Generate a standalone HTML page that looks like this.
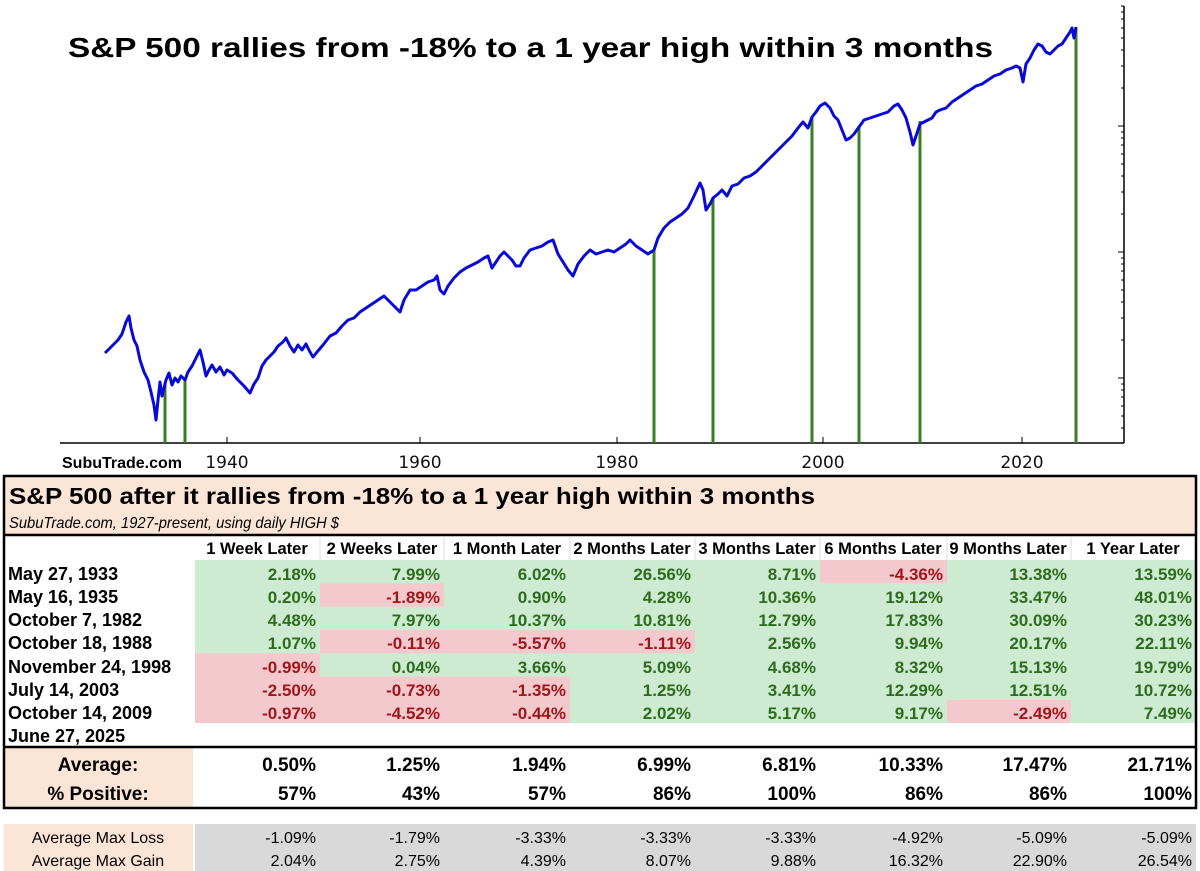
<!DOCTYPE html>
<html><head><meta charset="utf-8"><style>html,body{margin:0;padding:0;background:#fff}svg{display:block}</style></head>
<body>
<svg width="1200" height="871" viewBox="0 0 1200 871" xmlns="http://www.w3.org/2000/svg" font-family="Liberation Sans, Arial, sans-serif">
<rect width="1200" height="871" fill="#fff"/>
<line x1="60" y1="443" x2="1124" y2="443" stroke="#000" stroke-width="1.5"/>
<line x1="1124" y1="6" x2="1124" y2="443" stroke="#000" stroke-width="1.5"/>
<g stroke="#000" stroke-width="1">
<line x1="1118" y1="126" x2="1124" y2="126"/><line x1="1118" y1="252" x2="1124" y2="252"/><line x1="1118" y1="378" x2="1124" y2="378"/>
<line x1="1121" y1="88" x2="1124" y2="88"/><line x1="1121" y1="66" x2="1124" y2="66"/><line x1="1121" y1="50" x2="1124" y2="50"/><line x1="1121" y1="38" x2="1124" y2="38"/><line x1="1121" y1="28" x2="1124" y2="28"/><line x1="1121" y1="19" x2="1124" y2="19"/><line x1="1121" y1="12" x2="1124" y2="12"/><line x1="1121" y1="6" x2="1124" y2="6"/>
<line x1="1121" y1="214" x2="1124" y2="214"/><line x1="1121" y1="192" x2="1124" y2="192"/><line x1="1121" y1="176" x2="1124" y2="176"/><line x1="1121" y1="164" x2="1124" y2="164"/><line x1="1121" y1="154" x2="1124" y2="154"/><line x1="1121" y1="145" x2="1124" y2="145"/><line x1="1121" y1="138" x2="1124" y2="138"/><line x1="1121" y1="132" x2="1124" y2="132"/>
<line x1="1121" y1="340" x2="1124" y2="340"/><line x1="1121" y1="318" x2="1124" y2="318"/><line x1="1121" y1="302" x2="1124" y2="302"/><line x1="1121" y1="290" x2="1124" y2="290"/><line x1="1121" y1="280" x2="1124" y2="280"/><line x1="1121" y1="271" x2="1124" y2="271"/><line x1="1121" y1="264" x2="1124" y2="264"/><line x1="1121" y1="258" x2="1124" y2="258"/>
<line x1="1121" y1="428" x2="1124" y2="428"/><line x1="1121" y1="416" x2="1124" y2="416"/><line x1="1121" y1="406" x2="1124" y2="406"/><line x1="1121" y1="397" x2="1124" y2="397"/><line x1="1121" y1="390" x2="1124" y2="390"/><line x1="1121" y1="384" x2="1124" y2="384"/>
<line x1="227" y1="437" x2="227" y2="443"/><line x1="420" y1="437" x2="420" y2="443"/><line x1="617" y1="437" x2="617" y2="443"/><line x1="823" y1="437" x2="823" y2="443"/><line x1="1022" y1="437" x2="1022" y2="443"/>
</g>
<g font-family="DejaVu Sans, sans-serif" font-size="17" text-anchor="middle" fill="#111">
<text x="227" y="468">1940</text><text x="420" y="468">1960</text><text x="617" y="468">1980</text><text x="823" y="468">2000</text><text x="1022" y="468">2020</text>
</g>
<text x="62" y="468" font-size="16" font-weight="bold">SubuTrade.com</text>
<g stroke="#3a7d22" stroke-width="3">
<line x1="165" y1="383" x2="165" y2="443"/><line x1="185" y1="380" x2="185" y2="443"/>
<line x1="654" y1="250" x2="654" y2="443"/><line x1="713" y1="198" x2="713" y2="443"/>
<line x1="812" y1="117" x2="812" y2="443"/><line x1="859" y1="127" x2="859" y2="443"/>
<line x1="920" y1="121" x2="920" y2="443"/><line x1="1076" y1="27" x2="1076" y2="443"/>
</g>
<polyline fill="none" stroke="#0a0ad8" stroke-width="3" stroke-linejoin="round" points="
105,353 110,348 114,344 118,340 122,334 126,322 129,316 131,328 134,340 137,346 140,360 144,372 148,380 151,392 154,405 156,420 158,400 160,382 162,396 164,388 166,380 169,373 172,385 175,378 178,382 181,376 185,380 188,372 192,366 196,358 200,350 203,362 206,376 209,370 212,365 216,372 220,367 224,375 227,370 232,373 238,380 244,386 250,393 254,384 258,378 262,366 266,360 270,356 274,352 278,346 283,342 286,338 290,346 294,352 298,345 302,350 306,344 310,352 313,357 317,352 323,345 330,336 336,333 342,326 348,320 354,318 360,312 366,308 372,304 378,300 384,296 390,302 396,308 400,312 404,300 410,290 416,290 422,286 428,282 434,280 437,276 440,290 444,294 448,286 454,278 460,272 466,268 472,265 478,262 484,258 488,256 492,268 496,262 500,256 504,252 508,256 512,260 516,266 520,266 524,258 530,250 536,248 542,246 548,242 553,240 558,254 563,262 568,270 573,276 578,264 584,256 590,250 596,254 602,252 608,250 614,252 620,248 626,244 630,240 636,246 642,250 648,254 654,250 658,238 664,228 670,222 676,218 682,214 688,208 694,196 700,183 703,190 706,210 710,204 713,198 718,194 722,190 727,196 732,186 738,184 744,178 750,176 756,172 762,166 768,160 774,154 780,148 786,142 792,136 798,128 803,122 808,128 812,117 816,112 820,106 825,103 830,108 834,116 838,120 842,130 846,140 850,138 854,134 859,127 864,120 870,118 876,116 882,114 888,112 894,106 898,104 902,110 906,118 910,132 913,145 916,136 920,124 924,122 928,120 932,118 936,112 940,110 946,108 952,102 958,98 964,94 970,90 976,86 982,84 988,80 994,76 1000,74 1006,70 1012,68 1016,66 1020,68 1023,82 1026,64 1030,58 1034,50 1038,44 1042,46 1046,52 1050,54 1054,50 1058,46 1062,44 1066,38 1070,32 1072,28 1074,38 1076,27"/>
<text x="68" y="57" font-size="28" font-weight="bold" textLength="925" lengthAdjust="spacingAndGlyphs">S&amp;P 500 rallies from -18% to a 1 year high within 3 months</text>

<rect x="4" y="476" width="1192" height="59" fill="#fbe5d6"/>
<rect x="4" y="747" width="189" height="61" fill="#fbe5d6"/>
<rect x="4" y="824" width="189" height="47" fill="#fbe5d6"/>
<rect x="195" y="824" width="1001" height="47" fill="#d9d9d9"/>
<text x="9" y="504" font-size="23" font-weight="bold" textLength="806" lengthAdjust="spacingAndGlyphs">S&amp;P 500 after it rallies from -18% to a 1 year high within 3 months</text>
<text x="9" y="528" font-size="16" font-style="italic" textLength="330" lengthAdjust="spacingAndGlyphs">SubuTrade.com, 1927-present, using daily HIGH $</text>
<g fill="#cdebd0">
<rect x="195" y="560" width="876" height="163"/><rect x="1071" y="560" width="125" height="163"/>
</g>
<g fill="#f4c9cd">
<rect x="820" y="560" width="127" height="23.3"/>
<rect x="320" y="583.3" width="124" height="23.3"/>
<rect x="320" y="630" width="375" height="23.3"/>
<rect x="195" y="653.3" width="125" height="69.7"/>
<rect x="320" y="676.6" width="250" height="46.4"/>
<rect x="947" y="700" width="124" height="23"/>
</g>
<rect x="4" y="476" width="1192" height="332" fill="none" stroke="#000" stroke-width="2.5"/>
<line x1="4" y1="535" x2="1196" y2="535" stroke="#000" stroke-width="2.5"/>
<line x1="4" y1="747" x2="1196" y2="747" stroke="#000" stroke-width="2.5"/>
<g stroke="#ddd" stroke-width="1"><line x1="320" y1="537" x2="320" y2="560"/><line x1="444" y1="537" x2="444" y2="560"/><line x1="570" y1="537" x2="570" y2="560"/><line x1="695" y1="537" x2="695" y2="560"/><line x1="820" y1="537" x2="820" y2="560"/><line x1="947" y1="537" x2="947" y2="560"/><line x1="1071" y1="537" x2="1071" y2="560"/></g>
<g font-size="16.5" font-weight="bold" text-anchor="middle">
<text x="257" y="554">1 Week Later</text><text x="382" y="554">2 Weeks Later</text><text x="507" y="554">1 Month Later</text><text x="632" y="554">2 Months Later</text><text x="757" y="554">3 Months Later</text><text x="883" y="554">6 Months Later</text><text x="1008" y="554">9 Months Later</text><text x="1133" y="554">1 Year Later</text>
</g>
<g font-size="18" font-weight="bold">
<text x="8" y="580">May 27, 1933</text><text x="8" y="603">May 16, 1935</text><text x="8" y="626">October 7, 1982</text><text x="8" y="649">October 18, 1988</text><text x="8" y="673">November 24, 1998</text><text x="8" y="696">July 14, 2003</text><text x="8" y="719">October 14, 2009</text><text x="8" y="742">June 27, 2025</text>
</g>
<g font-size="17" font-weight="bold" text-anchor="end" fill="#2f6b1e">
<text x="316" y="580">2.18%</text><text x="440" y="580">7.99%</text><text x="566" y="580">6.02%</text><text x="691" y="580">26.56%</text><text x="816" y="580">8.71%</text><text x="943" y="580" fill="#a0161c">-4.36%</text><text x="1067" y="580">13.38%</text><text x="1192" y="580">13.59%</text>
<text x="316" y="603">0.20%</text><text x="440" y="603" fill="#a0161c">-1.89%</text><text x="566" y="603">0.90%</text><text x="691" y="603">4.28%</text><text x="816" y="603">10.36%</text><text x="943" y="603">19.12%</text><text x="1067" y="603">33.47%</text><text x="1192" y="603">48.01%</text>
<text x="316" y="626">4.48%</text><text x="440" y="626">7.97%</text><text x="566" y="626">10.37%</text><text x="691" y="626">10.81%</text><text x="816" y="626">12.79%</text><text x="943" y="626">17.83%</text><text x="1067" y="626">30.09%</text><text x="1192" y="626">30.23%</text>
<text x="316" y="649">1.07%</text><text x="440" y="649" fill="#a0161c">-0.11%</text><text x="566" y="649" fill="#a0161c">-5.57%</text><text x="691" y="649" fill="#a0161c">-1.11%</text><text x="816" y="649">2.56%</text><text x="943" y="649">9.94%</text><text x="1067" y="649">20.17%</text><text x="1192" y="649">22.11%</text>
<text x="316" y="673" fill="#a0161c">-0.99%</text><text x="440" y="673">0.04%</text><text x="566" y="673">3.66%</text><text x="691" y="673">5.09%</text><text x="816" y="673">4.68%</text><text x="943" y="673">8.32%</text><text x="1067" y="673">15.13%</text><text x="1192" y="673">19.79%</text>
<text x="316" y="696" fill="#a0161c">-2.50%</text><text x="440" y="696" fill="#a0161c">-0.73%</text><text x="566" y="696" fill="#a0161c">-1.35%</text><text x="691" y="696">1.25%</text><text x="816" y="696">3.41%</text><text x="943" y="696">12.29%</text><text x="1067" y="696">12.51%</text><text x="1192" y="696">10.72%</text>
<text x="316" y="719" fill="#a0161c">-0.97%</text><text x="440" y="719" fill="#a0161c">-4.52%</text><text x="566" y="719" fill="#a0161c">-0.44%</text><text x="691" y="719">2.02%</text><text x="816" y="719">5.17%</text><text x="943" y="719">9.17%</text><text x="1067" y="719" fill="#a0161c">-2.49%</text><text x="1192" y="719">7.49%</text>
</g>
<g font-size="19" font-weight="bold" text-anchor="end">
<text x="98" y="771" text-anchor="middle">Average:</text><text x="98" y="800" text-anchor="middle">% Positive:</text>
<text x="316" y="771">0.50%</text><text x="440" y="771">1.25%</text><text x="566" y="771">1.94%</text><text x="691" y="771">6.99%</text><text x="816" y="771">6.81%</text><text x="943" y="771">10.33%</text><text x="1067" y="771">17.47%</text><text x="1192" y="771">21.71%</text>
<text x="316" y="800">57%</text><text x="440" y="800">43%</text><text x="566" y="800">57%</text><text x="691" y="800">86%</text><text x="816" y="800">100%</text><text x="943" y="800">86%</text><text x="1067" y="800">86%</text><text x="1192" y="800">100%</text>
</g>
<g font-size="16" text-anchor="end">
<text x="98" y="843" text-anchor="middle">Average Max Loss</text><text x="98" y="866" text-anchor="middle">Average Max Gain</text>
<text x="316" y="843">-1.09%</text><text x="440" y="843">-1.79%</text><text x="566" y="843">-3.33%</text><text x="691" y="843">-3.33%</text><text x="816" y="843">-3.33%</text><text x="943" y="843">-4.92%</text><text x="1067" y="843">-5.09%</text><text x="1192" y="843">-5.09%</text>
<text x="316" y="866">2.04%</text><text x="440" y="866">2.75%</text><text x="566" y="866">4.39%</text><text x="691" y="866">8.07%</text><text x="816" y="866">9.88%</text><text x="943" y="866">16.32%</text><text x="1067" y="866">22.90%</text><text x="1192" y="866">26.54%</text>
</g>
</svg>
</body></html>
